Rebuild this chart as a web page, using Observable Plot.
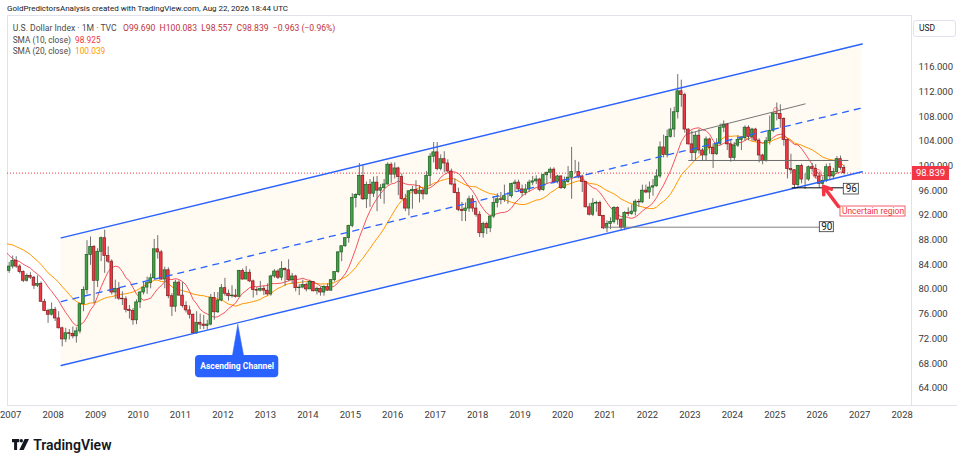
<!DOCTYPE html>
<html><head><meta charset="utf-8">
<script src="https://cdn.jsdelivr.net/npm/d3@7"></script>
<script src="https://cdn.jsdelivr.net/npm/@observablehq/plot@0.6"></script>
<style>
body{margin:0;background:#fff;font-family:Roboto,"Liberation Sans",Arial,sans-serif;}
#wrap{position:relative;width:964px;height:466px;overflow:hidden;background:#fff;}
.ov{position:absolute;white-space:nowrap;line-height:10px;}
</style></head><body>
<div id="wrap">
  <div id="chart"></div>
</div>
<script>
// ---- data (TVC:DXY monthly, Jan 2005 .. Aug 2026) ----
const startYear = 2005;
const open = [
 80.9,83.6,82.4,84.5,84.1,87.0,89.1,88.2,86.9,89.3,89.6,91.5,
 90.9,89.1,90.2,89.5,86.5,85.1,85.5,85.3,85.0,85.9,85.3,83.0,
 83.7,84.6,83.7,82.8,81.4,82.2,81.9,80.6,80.9,78.0,76.5,75.9,
 76.7,75.3,73.7,71.9,72.9,72.8,72.4,73.2,77.6,79.9,85.6,86.9,
 81.4,86.1,88.3,85.4,84.5,79.5,80.1,78.5,78.4,76.7,76.5,75.0,
 77.9,79.5,80.3,81.0,81.8,86.5,86.0,81.6,83.1,78.9,77.2,81.1,
 79.0,77.3,76.6,75.9,72.9,74.6,74.3,74.1,74.3,78.6,76.3,78.2,
 80.2,79.3,78.9,79.0,78.8,83.0,81.6,82.7,81.3,79.9,79.8,80.1,
 79.8,79.2,82.1,82.9,81.9,83.3,83.1,81.5,82.1,80.2,80.3,80.7,
 80.0,81.2,79.7,80.1,79.5,80.4,79.8,81.5,82.8,86.0,87.0,88.3,
 90.3,94.8,95.3,98.4,94.6,96.9,95.5,97.3,96.0,96.4,97.0,100.2,
 98.6,99.6,98.2,94.6,93.1,95.9,96.1,95.5,96.0,95.4,98.4,101.5,
 102.2,99.5,101.1,100.4,99.1,97.0,95.6,92.9,92.7,93.1,94.6,93.1,
 92.1,89.1,90.6,89.9,91.8,94.0,94.6,94.5,95.1,95.1,97.1,97.3,
 96.2,95.6,96.2,97.3,97.5,97.8,96.1,98.5,98.9,99.4,97.4,98.3,
 96.4,97.4,98.1,99.0,99.0,98.3,97.4,93.3,92.1,93.9,94.0,91.9,
 89.9,90.6,90.9,93.2,91.3,90.0,92.4,92.2,92.6,94.2,94.1,96.0,
 95.7,96.5,96.7,98.3,103.0,101.8,104.7,105.9,108.7,112.1,111.5,105.9,
 103.5,102.1,104.9,102.5,101.7,104.3,102.9,101.9,103.6,106.2,106.7,103.5,
 101.3,103.3,104.2,104.5,106.2,104.7,105.9,104.1,101.7,100.8,104.0,105.7,
 108.5,108.4,107.6,104.2,99.5,99.3,96.9,100.0,97.8,97.8,99.8,99.5,
 98.3,97.1,97.6,99.8,98.3,99.0,101.1,99.69
];
const high = [
 84.0,84.5,84.9,85.4,87.4,89.6,90.3,89.0,89.5,90.3,92.6,91.8,
 91.3,91.0,91.1,89.8,86.8,87.3,87.0,86.0,86.5,87.2,85.9,84.4,
 85.4,85.3,84.0,83.0,82.5,82.7,82.1,82.2,81.2,78.4,76.8,77.8,
 77.1,76.4,73.9,73.7,73.5,73.9,73.8,77.8,80.4,87.9,88.5,87.1,
 86.6,88.5,89.6,86.9,84.8,81.5,81.1,79.6,78.8,77.4,76.9,78.3,
 79.7,81.3,82.0,82.5,88.1,88.7,86.3,83.6,83.5,79.3,81.5,81.4,
 81.1,78.0,77.3,76.0,76.4,76.0,75.8,75.0,79.2,79.5,79.5,80.8,
 81.8,79.9,80.6,80.0,83.1,83.3,83.7,83.2,81.5,80.3,81.3,80.5,
 80.9,82.3,83.2,83.2,84.5,83.5,84.8,82.6,82.3,80.8,81.5,81.0,
 81.5,81.2,80.4,80.4,80.6,80.9,81.6,82.8,86.1,87.0,88.4,90.4,
 95.5,95.5,100.4,100.1,97.4,97.8,98.2,98.3,97.0,97.8,100.5,100.5,
 100.5,99.8,98.7,95.4,96.0,96.7,97.6,96.8,96.3,99.1,102.0,103.8,
 103.8,101.8,102.3,101.0,99.5,97.9,96.4,94.1,94.0,95.1,95.2,94.2,
 92.6,90.9,90.9,91.9,95.0,95.5,95.7,96.9,95.7,97.2,97.7,97.7,
 96.9,97.0,97.7,98.3,98.4,98.0,98.7,99.0,99.7,99.7,98.5,98.4,
 98.2,99.9,103.0,100.9,100.6,98.5,97.5,93.9,94.7,94.3,94.3,92.0,
 91.1,91.6,93.4,93.4,91.4,92.6,93.2,93.7,94.5,94.6,96.9,96.9,
 97.4,97.8,99.4,103.9,105.0,105.8,109.3,109.5,114.8,113.9,111.8,106.0,
 105.6,105.4,105.9,102.8,104.7,104.5,103.6,104.4,106.8,107.3,106.9,104.3,
 103.8,104.9,104.7,106.5,106.5,106.1,106.1,104.4,101.9,104.6,108.1,108.6,
 110.2,109.9,107.8,104.4,101.9,99.4,100.1,100.3,98.7,100.0,100.4,100.2,
 99.0,98.2,100.3,100.4,99.6,101.5,101.6,100.083
];
const low = [
 80.4,82.0,81.3,83.4,83.5,86.5,87.1,86.2,86.5,88.3,89.4,88.6,
 88.2,88.9,89.0,86.1,83.9,84.6,84.9,84.4,84.9,85.2,82.6,82.6,
 83.3,83.4,82.5,81.1,81.2,81.6,80.0,80.3,77.9,76.4,74.5,75.7,
 74.8,73.6,70.7,71.4,71.8,72.0,71.3,72.8,76.4,79.2,83.9,77.7,
 80.3,84.5,82.6,84.2,79.1,78.4,78.2,77.4,76.2,75.2,74.2,74.3,
 76.9,79.1,79.2,80.1,81.6,84.9,81.5,80.1,78.5,75.6,76.3,78.9,
 77.0,76.2,75.2,72.8,72.7,73.5,73.5,73.4,74.1,75.0,76.1,78.0,
 78.9,78.1,78.6,78.6,78.8,81.5,81.6,81.1,78.6,79.0,79.6,79.0,
 78.9,78.9,81.8,81.6,81.4,80.5,81.3,80.8,79.6,79.0,80.1,79.6,
 80.0,79.6,79.1,78.9,78.9,79.7,79.7,81.2,82.6,84.5,86.8,87.5,
 90.0,93.2,95.1,94.4,93.1,93.3,94.9,92.6,94.6,93.8,96.9,97.2,
 97.9,95.2,94.5,92.6,91.9,93.0,95.3,94.0,94.5,95.3,96.7,100.5,
 99.2,99.2,98.9,98.8,96.8,95.5,92.6,91.0,91.0,92.5,92.5,91.7,
 88.4,88.3,88.9,89.2,91.5,93.2,93.7,94.1,93.8,94.8,95.7,95.8,
 95.0,95.2,95.7,96.8,97.0,95.8,95.9,97.0,97.9,97.1,97.1,96.2,
 96.2,97.2,94.6,98.8,97.9,95.7,93.2,91.9,91.8,92.5,91.8,89.7,
 89.2,89.7,90.6,90.4,89.5,89.5,91.8,92.0,91.9,93.3,93.9,95.5,
 94.6,95.1,96.6,98.0,101.3,101.3,104.5,104.6,107.6,109.5,105.3,103.4,
 100.8,100.8,101.9,100.8,100.8,101.9,99.6,101.7,103.3,105.4,102.5,100.6,
 100.8,103.0,102.5,104.0,104.1,104.0,103.9,100.5,100.2,100.6,103.4,105.4,
 107.3,106.1,103.2,97.9,98.7,96.4,96.4,97.1,96.2,97.5,99.0,97.9,
 96.4,96.2,97.3,97.8,97.9,98.7,99.3,98.557
];
const close = [
 83.6,82.4,84.5,84.1,87.0,89.1,88.2,86.9,89.3,89.6,91.5,90.9,
 89.1,90.2,89.5,86.5,85.1,85.5,85.3,85.0,85.9,85.3,83.0,83.7,
 84.6,83.7,82.8,81.4,82.2,81.9,80.6,80.9,78.0,76.5,75.9,76.7,
 75.3,73.7,71.9,72.9,72.8,72.4,73.2,77.6,79.9,85.6,86.9,81.4,
 86.1,88.3,85.4,84.5,79.5,80.1,78.5,78.4,76.7,76.5,75.0,77.9,
 79.5,80.3,81.0,81.8,86.5,86.0,81.6,83.1,78.9,77.2,81.1,79.0,
 77.3,76.6,75.9,72.9,74.6,74.3,74.1,74.3,78.6,76.3,78.2,80.2,
 79.3,78.9,79.0,78.8,83.0,81.6,82.7,81.3,79.9,79.8,80.1,79.8,
 79.2,82.1,82.9,81.9,83.3,83.1,81.5,82.1,80.2,80.3,80.7,80.0,
 81.2,79.7,80.1,79.5,80.4,79.8,81.5,82.8,86.0,87.0,88.3,90.3,
 94.8,95.3,98.4,94.6,96.9,95.5,97.3,96.0,96.4,97.0,100.2,98.6,
 99.6,98.2,94.6,93.1,95.9,96.1,95.5,96.0,95.4,98.4,101.5,102.2,
 99.5,101.1,100.4,99.1,97.0,95.6,92.9,92.7,93.1,94.6,93.1,92.1,
 89.1,90.6,89.9,91.8,94.0,94.6,94.5,95.1,95.1,97.1,97.3,96.2,
 95.6,96.2,97.3,97.5,97.8,96.1,98.5,98.9,99.4,97.4,98.3,96.4,
 97.4,98.1,99.0,99.0,98.3,97.4,93.3,92.1,93.9,94.0,91.9,89.9,
 90.6,90.9,93.2,91.3,90.0,92.4,92.2,92.6,94.2,94.1,96.0,95.7,
 96.5,96.7,98.3,103.0,101.8,104.7,105.9,108.7,112.1,111.5,105.9,103.5,
 102.1,104.9,102.5,101.7,104.3,102.9,101.9,103.6,106.2,106.7,103.5,101.3,
 103.3,104.2,104.5,106.2,104.7,105.9,104.1,101.7,100.8,104.0,105.7,108.5,
 108.4,107.6,104.2,99.5,99.3,96.9,100.0,97.8,97.8,99.8,99.5,98.3,
 97.1,97.6,99.8,98.3,99.0,101.1,99.69,98.839
];
const yTicks = [64,68,72,76,80,84,88,92,96,100,104,108,112,116];
const yearTicks = [2007,2008,2009,2010,2011,2012,2013,2014,2015,2016,2017,2018,2019,2020,2021,2022,2023,2024,2025,2026,2027,2028];

// drawings (in years / index points)
const channelYears = [2008.1425, 2027.0116];
const channelUpper = [88.36, 119.76];
const channelMid   = [78.02, 109.415];
const channelLower = [67.68, 99.07];
const levelLines = [
  {x1: 2020.94, x2: 2026.013, y: 90.08, color: "#808080"},
  {x1: 2025.363, x2: 2026.578, y: 96.46, color: "#000000"},
  {x1: 2022.927, x2: 2026.697, y: 100.89, color: "#6b6b6b"}
];
const trendLine = [{x1: 2022.889, y1: 105.21, x2: 2025.676, y2: 110.07}];
const circles = [
  {x: 2024.976, y: 109.1, r: 8},
  {x: 2025.952, y: 98.73, r: 30}
];
const levelBoxes = [
  {x1: 2026.013, x2: 2026.343, y1: 89.27, y2: 90.89, text: "90"},
  {x1: 2026.578, x2: 2026.932, y1: 95.38, y2: 97.11, text: "96"}
];
const uncertainBox = [{x1: 2026.50, x2: 2028.032, y1: 91.81, y2: 93.43, text: "Uncertain region"}];
const arrowPts = [{x1: 2026.453, y1: 93.43, x2: 2026.10, y2: 96.67}];
const calloutBox = [{x1: 2011.306, x2: 2013.268, y1: 65.69, y2: 69.30, text: "Ascending Channel"}];
const calloutPointer = [{x: 2012.303, y: 74.32}, {x: 2012.171, y: 69.1}, {x: 2012.444, y: 69.1}, {x: 2012.303, y: 74.32}];

// ---- build ----
const candles = close.map((c, i) => ({t: startYear + i / 12, o: open[i], h: high[i], l: low[i], c}));
const up = candles.filter(d => d.c >= d.o);
const dn = candles.filter(d => d.c < d.o);
const last = candles[candles.length - 1];
const channel = channelYears.map((t, i) => ({t, hi: channelUpper[i], mid: channelMid[i], lo: channelLower[i]}));
const half = 0.031;

const plot = Plot.plot({
  width: 964, height: 430,
  marginLeft: 7, marginRight: 53, marginTop: 15, marginBottom: 25,
  x: {domain: [2006.8775, 2028.1732], axis: null},
  y: {domain: [61.196, 124.375], axis: null},
  style: {fontFamily: "Roboto, 'Liberation Sans', Arial, sans-serif", color: "#3a3a3a", background: "transparent", overflow: "visible"},
  marks: [
    Plot.frame({stroke: "#e0e3eb"}),
    Plot.areaY(channel, {x: "t", y1: "lo", y2: "hi", fill: "#ff9800", fillOpacity: 0.05}),
    Plot.ruleY([last.c], {stroke: "#f23645", strokeWidth: 1, strokeDasharray: "1,2"}),
    Plot.lineY(candles, Plot.windowY({k: 20, anchor: "end", reduce: "mean"}, {x: "t", y: "c", stroke: "#ff9800", strokeWidth: 1, clip: true})),
    Plot.lineY(candles, Plot.windowY({k: 10, anchor: "end", reduce: "mean"}, {x: "t", y: "c", stroke: "#f23645", strokeWidth: 1, strokeOpacity: 0.85, clip: true})),
    Plot.ruleX(candles, {x: "t", y1: "l", y2: "h", stroke: "#707070", strokeWidth: 1, clip: true}),
    Plot.rect(up, {x1: d => d.t - half, x2: d => d.t + half, y1: "o", y2: "c", fill: "#43a047", stroke: "#1b5e20", strokeWidth: 0.7, clip: true}),
    Plot.rect(dn, {x1: d => d.t - half, x2: d => d.t + half, y1: "o", y2: "c", fill: "#f23645", stroke: "#7f1d1d", strokeWidth: 0.7, clip: true}),
    // channel
    Plot.line(channel, {x: "t", y: "hi", stroke: "#2962ff", strokeWidth: 1.4}),
    Plot.line(channel, {x: "t", y: "lo", stroke: "#2962ff", strokeWidth: 1.4}),
    Plot.line(channel, {x: "t", y: "mid", stroke: "#2962ff", strokeWidth: 1.3, strokeDasharray: "6,6"}),
    // levels
    Plot.ruleY(levelLines, {y: "y", x1: "x1", x2: "x2", stroke: d => d.color, strokeWidth: 1}),
    Plot.link(trendLine, {x1: "x1", y1: "y1", x2: "x2", y2: "y2", stroke: "#555", strokeWidth: 0.8}),
    Plot.dot(circles, {x: "x", y: "y", r: "r", fill: "#f23645", fillOpacity: 0.07, stroke: "#f23645", strokeOpacity: 0.55, strokeWidth: 1}),
    Plot.rect(levelBoxes, {x1: "x1", x2: "x2", y1: "y1", y2: "y2", fill: "#fff", stroke: "#333", strokeWidth: 0.8}),
    Plot.text(levelBoxes, {x: d => (d.x1 + d.x2) / 2, y: d => (d.y1 + d.y2) / 2, text: "text", fill: "#131722", fontSize: 10}),
    Plot.arrow(arrowPts, {x1: "x1", y1: "y1", x2: "x2", y2: "y2", stroke: "#f23645", strokeWidth: 3.5, headLength: 11, headAngle: 70}),
    Plot.rect(uncertainBox, {x1: "x1", x2: "x2", y1: "y1", y2: "y2", fill: "#fff", stroke: "#f23645", strokeWidth: 0.8}),
    Plot.text(uncertainBox, {x: d => (d.x1 + d.x2) / 2, y: d => (d.y1 + d.y2) / 2, text: "text", fill: "#f23645", fontSize: 8.5}),
    // callout
    Plot.line(calloutPointer, {x: "x", y: "y", fill: "#2962ff", stroke: "#2962ff", strokeWidth: 0.5}),
    Plot.rect(calloutBox, {x1: "x1", x2: "x2", y1: "y1", y2: "y2", fill: "#2962ff", rx: 4}),
    Plot.text(calloutBox, {x: d => (d.x1 + d.x2) / 2, y: d => (d.y1 + d.y2) / 2, text: "text", fill: "#fff", fontSize: 8.5, fontWeight: "bold"}),
    // axes
    Plot.axisY(yTicks, {anchor: "right", tickSize: 0, tickPadding: 7, tickFormat: d => d.toFixed(3), fontSize: 9.5, label: null}),
    Plot.axisX(yearTicks, {anchor: "bottom", tickSize: 0, tickPadding: 6, tickFormat: d => String(d), fontSize: 9.5, dx: -2, label: null})
  ]
});
const wrap = document.getElementById("wrap");
document.getElementById("chart").append(plot);

function ov(html, css) {
  const d = document.createElement("div");
  d.className = "ov";
  d.innerHTML = html;
  Object.assign(d.style, css);
  wrap.append(d);
  return d;
}
// header & legend
ov("GoldPredictorsAnalysis created with TradingView.com, Aug 22, 2026 18:44 UTC", {left: "7px", top: "4px", fontSize: "8px", color: "#131722"});
ov("U.S. Dollar Index · 1M · TVC&nbsp;&nbsp; <span style='color:#c0343c'>O99.690&nbsp; H100.083&nbsp; L98.557&nbsp; C98.839&nbsp; −0.963 (−0.96%)</span>", {left: "12.7px", top: "23px", fontSize: "8.6px", color: "#4a4a4a"});
ov("SMA (10, close)&nbsp; <span style='color:#f23645'>98.925</span>", {left: "12.7px", top: "35px", fontSize: "8.3px", color: "#4a4a4a"});
ov("SMA (20, close)&nbsp; <span style='color:#ff9800'>100.039</span>", {left: "12.7px", top: "46px", fontSize: "8.3px", color: "#4a4a4a"});
// USD box
ov("USD", {left: "913px", top: "20px", width: "36px", height: "15px", lineHeight: "15px", paddingLeft: "5px", fontSize: "8.5px", color: "#131722", border: "1px solid #e0e3eb", borderRadius: "3px"});
// price label via y scale (drawn over the axis like TradingView)
const py = plot.scale("y").apply(last.c);
ov(last.c.toFixed(3), {left: "912px", top: (py - 7) + "px", width: "37px", height: "14px", lineHeight: "14px", textAlign: "center", background: "#f23645", color: "#fff", fontSize: "9.5px"});
// bottom separator under price axis
ov("", {left: "911px", top: "405px", width: "46px", height: "0", borderTop: "1px solid #e0e3eb"});
// TradingView logo
ov("<svg width='18' height='12' viewBox='0 0 18 12' style='vertical-align:-1px'><path d='M0 0h7.2v3.2H5.1V11H2.1V3.2H0z' fill='#131722'/><circle cx='9.3' cy='1.7' r='1.7' fill='#131722'/><path d='M12.6 0h4.4l-5.3 11H7.3z' fill='#131722'/></svg> TradingView",
   {left: "12px", top: "438px", fontSize: "14px", fontWeight: "600", color: "#131722", lineHeight: "14px"});
</script>
</body></html>
